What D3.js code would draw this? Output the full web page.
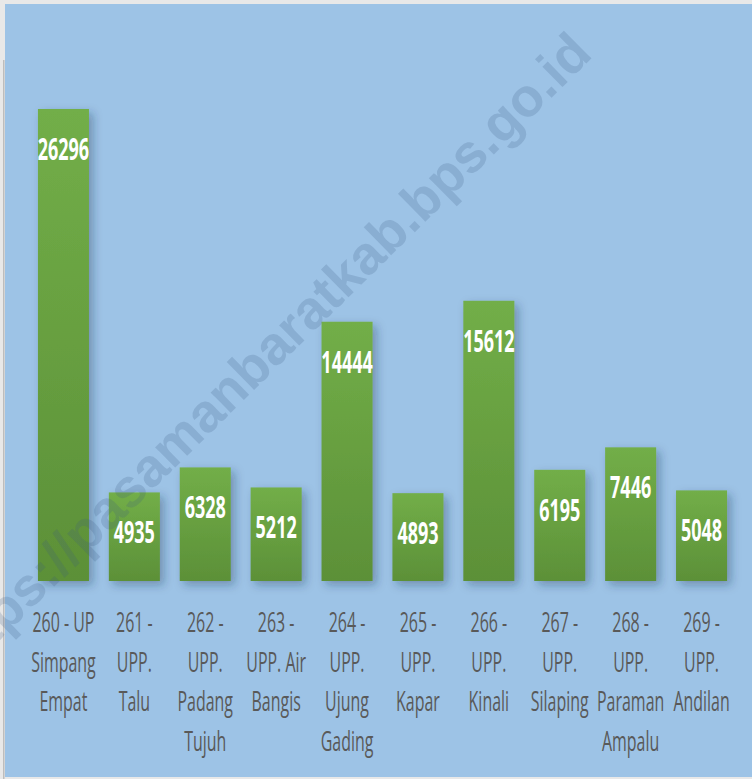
<!DOCTYPE html>
<html>
<head>
<meta charset="utf-8">
<script src="https://cdn.jsdelivr.net/npm/d3@7"></script>
<style>
  html, body { margin: 0; padding: 0; background: #ffffff; }
  svg { display: block; }
</style>
</head>
<body>
<div id="chart"></div>
<script>
// ---- data ----
const categories = [
  "260 - UP Simpang Empat",
  "261 - UPP. Talu",
  "262 - UPP. Padang Tujuh",
  "263 - UPP. Air Bangis",
  "264 - UPP. Ujung Gading",
  "265 - UPP. Kapar",
  "266 - UPP. Kinali",
  "267 - UPP. Silaping",
  "268 - UPP. Paraman Ampalu",
  "269 - UPP. Andilan"
];
const categoryLines = [
  ["260 - UP", "Simpang", "Empat"],
  ["261 -", "UPP.", "Talu"],
  ["262 -", "UPP.", "Padang", "Tujuh"],
  ["263 -", "UPP. Air", "Bangis"],
  ["264 -", "UPP.", "Ujung", "Gading"],
  ["265 -", "UPP.", "Kapar"],
  ["266 -", "UPP.", "Kinali"],
  ["267 -", "UPP.", "Silaping"],
  ["268 -", "UPP.", "Paraman", "Ampalu"],
  ["269 -", "UPP.", "Andilan"]
];
const values = [26296, 4935, 6328, 5212, 14444, 4893, 15612, 6195, 7446, 5048];
const yMax = 30000;
const watermark = "https://pasamanbaratkab.bps.go.id";

// ---- layout ----
const W = 752, H = 779;
const plotLeft = 28, plotRight = 737, plotBottom = 581, plotTop = 42.5;

const svg = d3.select("#chart").append("svg")
  .attr("width", W).attr("height", H);

const defs = svg.append("defs");
const grad = defs.append("linearGradient")
  .attr("id", "barGrad").attr("x1", 0).attr("y1", 0).attr("x2", 0).attr("y2", 1);
grad.append("stop").attr("offset", "0%").attr("stop-color", "#72AE48");
grad.append("stop").attr("offset", "100%").attr("stop-color", "#5C9038");

const shadow = defs.append("filter").attr("id", "shadow")
  .attr("x", "-30%").attr("y", "-10%").attr("width", "160%").attr("height", "130%");
shadow.append("feDropShadow")
  .attr("dx", 4).attr("dy", 4).attr("stdDeviation", 5)
  .attr("flood-color", "#1f3550").attr("flood-opacity", 0.35);

// frame
svg.append("rect").attr("x", 0).attr("y", 0).attr("width", W).attr("height", H)
  .attr("fill", "#E8E8E8");
svg.append("rect").attr("x", 3).attr("y", 60).attr("width", 1.5).attr("height", H - 60)
  .attr("fill", "#BDBDBD");
svg.append("rect").attr("x", 5).attr("y", 4).attr("width", W - 5).attr("height", 773)
  .attr("fill", "#9DC3E6");

const x = d3.scaleBand()
  .domain(categories)
  .range([plotLeft, plotRight])
  .paddingInner(0.28)
  .paddingOuter(0.14);

const y = d3.scaleLinear()
  .domain([0, yMax])
  .range([plotBottom, plotTop]);

// bars
svg.append("g")
  .selectAll("rect")
  .data(values)
  .join("rect")
  .attr("x", (d, i) => x(categories[i]))
  .attr("y", d => y(d))
  .attr("width", x.bandwidth())
  .attr("height", d => y(0) - y(d))
  .attr("fill", "url(#barGrad)")
  .attr("filter", "url(#shadow)");

// value labels
const sxVal = 0.58;
svg.append("g")
  .selectAll("text")
  .data(values)
  .join("text")
  .attr("transform", (d, i) =>
    `translate(${x(categories[i]) + x.bandwidth() / 2},${y(d) + 51}) scale(${sxVal},1)`)
  .attr("text-anchor", "middle")
  .attr("font-family", "'Open Sans', 'Noto Sans', sans-serif")
  .attr("font-weight", 700)
  .attr("font-size", 31)
  .attr("fill", "#ffffff")
  .text(d => d);

// category labels
const sxCat = 0.6;
const catG = svg.append("g");
categoryLines.forEach((lines, i) => {
  const cx = x(categories[i]) + x.bandwidth() / 2;
  lines.forEach((ln, j) => {
    catG.append("text")
      .attr("transform", `translate(${cx},${632 + j * 39.5}) scale(${sxCat},1)`)
      .attr("text-anchor", "middle")
      .attr("font-family", "'Open Sans', 'Noto Sans', sans-serif")
      .attr("font-size", 26.6)
      .attr("fill", "#595959")
      .text(ln);
  });
});

// watermark
svg.append("text")
  .attr("transform", "translate(594,56) rotate(-44.5)")
  .attr("text-anchor", "end")
  .attr("font-family", "'Liberation Sans', Arial, sans-serif")
  .attr("font-weight", 700)
  .attr("font-size", 54)
  .attr("fill", "rgb(60,90,130)")
  .attr("fill-opacity", 0.2)
  .text(watermark);
</script>
</body>
</html>
